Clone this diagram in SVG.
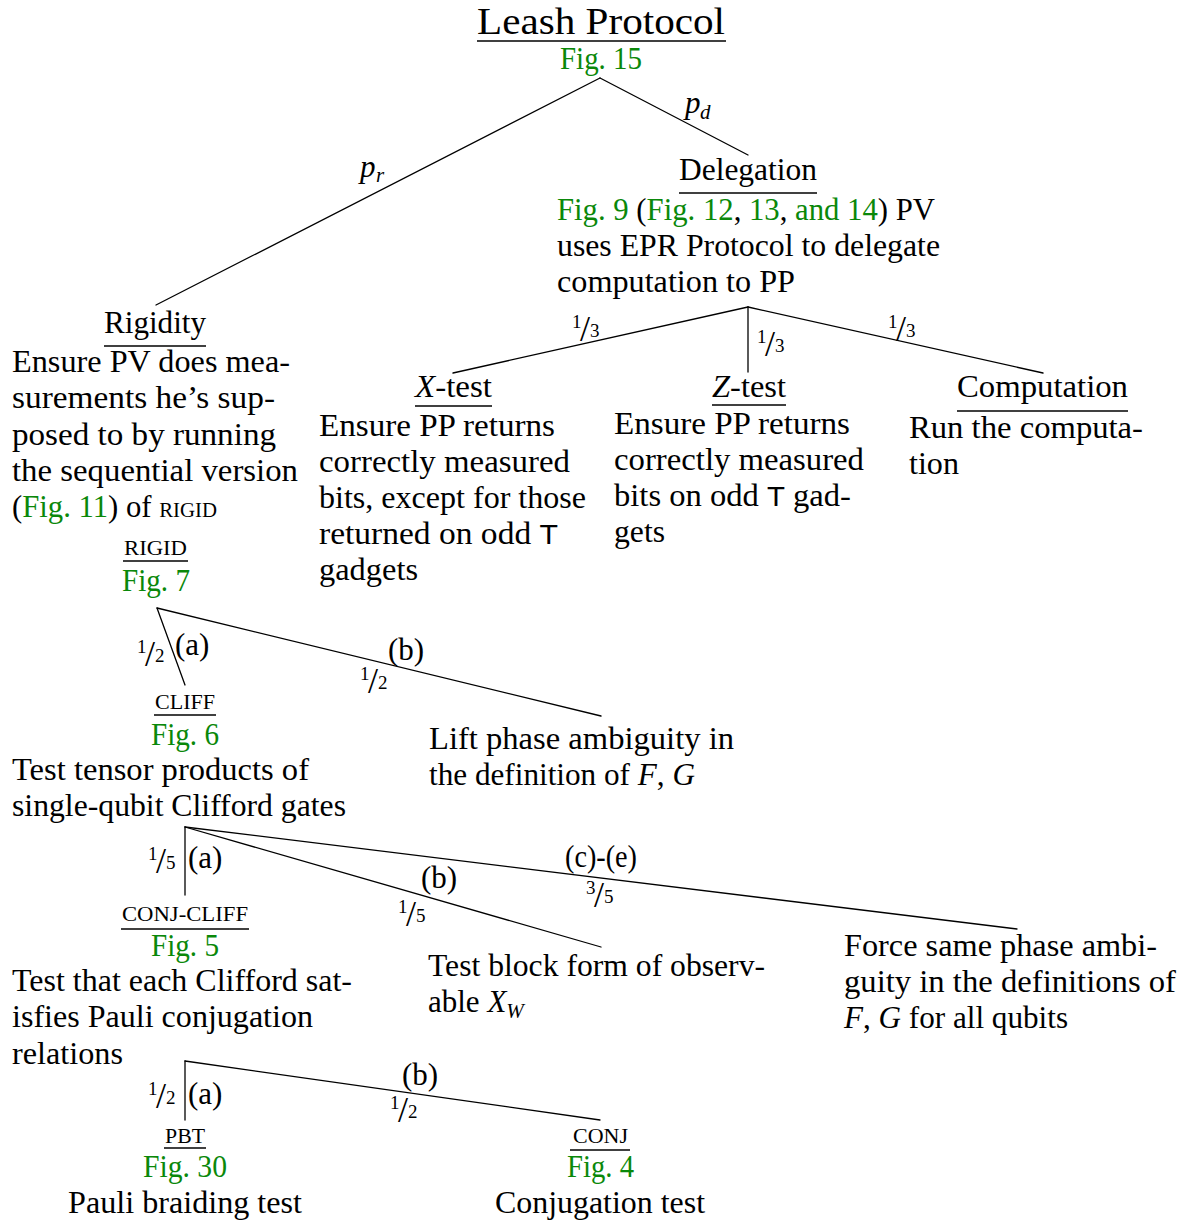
<svg xmlns="http://www.w3.org/2000/svg" width="1191" height="1223" viewBox="0 0 1191 1223">
  <style>
    text { font-family: "Liberation Serif", "Times New Roman", serif; fill: #000; }
    .t { font-size: 31px; }
    .title { font-size: 37px; }
    .g { fill: #0a880a; }
    .sc { font-size: 21px; }
    .i { font-style: italic; }
    .sf { font-family: "Liberation Sans", Arial, sans-serif; font-size: 28px; }
    .sub { font-size: 21px; }
    .n { font-size: 19px; }
    .s { font-size: 36px; }
    .ul { stroke: #000; stroke-width: 1.6; }
    .edge { stroke: #000; stroke-width: 1.3; fill: none; stroke-linecap: round; }
  </style>

  <rect width="1191" height="1223" fill="#fff"/>

  <!-- tree branches -->
  <g id="connectors">
    <line class="edge" x1="600" y1="78" x2="156" y2="305"/>
    <line class="edge" x1="600" y1="78" x2="748" y2="155"/>
    <line class="edge" x1="748" y1="307" x2="453" y2="373"/>
    <line class="edge" x1="748" y1="307" x2="748" y2="372"/>
    <line class="edge" x1="748" y1="307" x2="1043" y2="373"/>
    <line class="edge" x1="157" y1="608" x2="185" y2="685"/>
    <line class="edge" x1="157" y1="608" x2="601" y2="716"/>
    <line class="edge" x1="185" y1="827" x2="185" y2="895"/>
    <line class="edge" x1="185" y1="827" x2="601" y2="947"/>
    <line class="edge" x1="185" y1="827" x2="1017" y2="929"/>
    <line class="edge" x1="185" y1="1061" x2="185" y2="1120"/>
    <line class="edge" x1="185" y1="1061" x2="600" y2="1120"/>
  </g>

  <!-- branch probabilities and case labels -->
  <g id="edge-labels">
    <text class="t i" x="360" y="177">p<tspan class="sub" x="376" y="182">r</tspan></text>
    <text class="t i" x="685" y="113">p<tspan class="sub" x="700" y="119">d</tspan></text>

    <text><tspan class="n" x="572" y="328">1</tspan><tspan class="s" x="580" y="341">/</tspan><tspan class="n" x="590" y="337">3</tspan></text>
    <text><tspan class="n" x="757" y="343">1</tspan><tspan class="s" x="765" y="356">/</tspan><tspan class="n" x="775" y="352">3</tspan></text>
    <text><tspan class="n" x="888" y="328">1</tspan><tspan class="s" x="896" y="341">/</tspan><tspan class="n" x="906" y="337">3</tspan></text>

    <text><tspan class="n" x="137" y="653">1</tspan><tspan class="s" x="145" y="666">/</tspan><tspan class="n" x="155" y="662">2</tspan></text>
    <text class="t" x="175" y="655">(a)</text>
    <text class="t" x="388" y="660">(b)</text>
    <text><tspan class="n" x="360" y="680">1</tspan><tspan class="s" x="368" y="693">/</tspan><tspan class="n" x="378" y="689">2</tspan></text>

    <text><tspan class="n" x="148" y="860">1</tspan><tspan class="s" x="156" y="873">/</tspan><tspan class="n" x="166" y="869">5</tspan></text>
    <text class="t" x="188" y="868">(a)</text>
    <text class="t" x="421" y="888">(b)</text>
    <text><tspan class="n" x="398" y="913">1</tspan><tspan class="s" x="406" y="926">/</tspan><tspan class="n" x="416" y="922">5</tspan></text>
    <text class="t" x="565" y="867" textLength="72" lengthAdjust="spacingAndGlyphs">(c)-(e)</text>
    <text><tspan class="n" x="586" y="894">3</tspan><tspan class="s" x="594" y="907">/</tspan><tspan class="n" x="604" y="903">5</tspan></text>

    <text><tspan class="n" x="148" y="1095">1</tspan><tspan class="s" x="156" y="1108">/</tspan><tspan class="n" x="166" y="1104">2</tspan></text>
    <text class="t" x="188" y="1104">(a)</text>
    <text class="t" x="402" y="1085">(b)</text>
    <text><tspan class="n" x="390" y="1109">1</tspan><tspan class="s" x="398" y="1122">/</tspan><tspan class="n" x="408" y="1118">2</tspan></text>
  </g>

  <g id="leash-protocol">
    <text class="title" x="477" y="34" textLength="248" lengthAdjust="spacingAndGlyphs">Leash Protocol</text>
    <line class="ul" x1="477" y1="41" x2="726" y2="41" stroke-width="2"/>
    <text class="t g" x="560" y="69" textLength="82" lengthAdjust="spacingAndGlyphs">Fig. 15</text>
  </g>

  <g id="delegation">
    <text class="t" x="679" y="180" textLength="138" lengthAdjust="spacingAndGlyphs">Delegation</text>
    <line class="ul" x1="679" y1="193" x2="817" y2="193"/>
    <text class="t" x="557" y="220" textLength="378" lengthAdjust="spacingAndGlyphs"><tspan class="g">Fig. 9</tspan> (<tspan class="g">Fig. 12</tspan>, <tspan class="g">13</tspan>, <tspan class="g">and 14</tspan>) PV</text>
    <text class="t" x="557" y="256" textLength="383" lengthAdjust="spacingAndGlyphs">uses EPR Protocol to delegate</text>
    <text class="t" x="557" y="292" textLength="238" lengthAdjust="spacingAndGlyphs">computation to PP</text>
  </g>

  <g id="rigidity">
    <text class="t" x="104" y="333" textLength="102" lengthAdjust="spacingAndGlyphs">Rigidity</text>
    <line class="ul" x1="104" y1="346" x2="206" y2="346"/>
    <text class="t" x="12" y="372" textLength="278" lengthAdjust="spacingAndGlyphs">Ensure PV does mea-</text>
    <text class="t" x="12" y="408" textLength="263" lengthAdjust="spacingAndGlyphs">surements he’s sup-</text>
    <text class="t" x="12" y="445" textLength="264" lengthAdjust="spacingAndGlyphs">posed to by running</text>
    <text class="t" x="12" y="481" textLength="286" lengthAdjust="spacingAndGlyphs">the sequential version</text>
    <text class="t" x="12" y="517" textLength="205" lengthAdjust="spacingAndGlyphs">(<tspan class="g">Fig. 11</tspan>) of <tspan class="sc">RIGID</tspan></text>
  </g>

  <g id="x-test">
    <text class="t" x="415" y="397" textLength="77" lengthAdjust="spacingAndGlyphs"><tspan class="i">X</tspan>-test</text>
    <line class="ul" x1="415" y1="406" x2="492" y2="406"/>
    <text class="t" x="319" y="436" textLength="236" lengthAdjust="spacingAndGlyphs">Ensure PP returns</text>
    <text class="t" x="319" y="472" textLength="251" lengthAdjust="spacingAndGlyphs">correctly measured</text>
    <text class="t" x="319" y="508" textLength="267" lengthAdjust="spacingAndGlyphs">bits, except for those</text>
    <text class="t" x="319" y="544" textLength="239" lengthAdjust="spacingAndGlyphs">returned on odd <tspan class="sf">T</tspan></text>
    <text class="t" x="319" y="580" textLength="99" lengthAdjust="spacingAndGlyphs">gadgets</text>
  </g>

  <g id="z-test">
    <text class="t" x="712" y="397" textLength="74" lengthAdjust="spacingAndGlyphs"><tspan class="i">Z</tspan>-test</text>
    <line class="ul" x1="712" y1="405" x2="786" y2="405"/>
    <text class="t" x="614" y="434" textLength="236" lengthAdjust="spacingAndGlyphs">Ensure PP returns</text>
    <text class="t" x="614" y="470" textLength="250" lengthAdjust="spacingAndGlyphs">correctly measured</text>
    <text class="t" x="614" y="506" textLength="237" lengthAdjust="spacingAndGlyphs">bits on odd <tspan class="sf">T</tspan> gad-</text>
    <text class="t" x="614" y="542" textLength="51" lengthAdjust="spacingAndGlyphs">gets</text>
  </g>

  <g id="computation">
    <text class="t" x="957" y="397" textLength="171" lengthAdjust="spacingAndGlyphs">Computation</text>
    <line class="ul" x1="957" y1="411" x2="1128" y2="411"/>
    <text class="t" x="909" y="438" textLength="234" lengthAdjust="spacingAndGlyphs">Run the computa-</text>
    <text class="t" x="909" y="474" textLength="50" lengthAdjust="spacingAndGlyphs">tion</text>
  </g>

  <g id="rigid">
    <text class="sc" x="124" y="555" textLength="63" lengthAdjust="spacingAndGlyphs">RIGID</text>
    <line class="ul" x1="123" y1="561" x2="188" y2="561"/>
    <text class="t g" x="122" y="591" textLength="68" lengthAdjust="spacingAndGlyphs">Fig. 7</text>
  </g>

  <g id="cliff">
    <text class="sc" x="155" y="709" textLength="60" lengthAdjust="spacingAndGlyphs">CLIFF</text>
    <line class="ul" x1="154" y1="715" x2="216" y2="715"/>
    <text class="t g" x="151" y="745" textLength="68" lengthAdjust="spacingAndGlyphs">Fig. 6</text>
    <text class="t" x="12" y="780" textLength="297" lengthAdjust="spacingAndGlyphs">Test tensor products of</text>
    <text class="t" x="12" y="816" textLength="334" lengthAdjust="spacingAndGlyphs">single-qubit Clifford gates</text>
  </g>

  <g id="lift-phase">
    <text class="t" x="429" y="749" textLength="305" lengthAdjust="spacingAndGlyphs">Lift phase ambiguity in</text>
    <text class="t" x="429" y="785" textLength="266" lengthAdjust="spacingAndGlyphs">the definition of <tspan class="i">F</tspan>, <tspan class="i">G</tspan></text>
  </g>

  <g id="conj-cliff">
    <text class="sc" x="122" y="921" textLength="126" lengthAdjust="spacingAndGlyphs">CONJ-CLIFF</text>
    <line class="ul" x1="121" y1="929" x2="249" y2="929"/>
    <text class="t g" x="151" y="956" textLength="68" lengthAdjust="spacingAndGlyphs">Fig. 5</text>
    <text class="t" x="12" y="991" textLength="340" lengthAdjust="spacingAndGlyphs">Test that each Clifford sat-</text>
    <text class="t" x="12" y="1027" textLength="301" lengthAdjust="spacingAndGlyphs">isfies Pauli conjugation</text>
    <text class="t" x="12" y="1064" textLength="111" lengthAdjust="spacingAndGlyphs">relations</text>
  </g>

  <g id="block-form">
    <text class="t" x="428" y="976" textLength="337" lengthAdjust="spacingAndGlyphs">Test block form of observ-</text>
    <text class="t" x="428" y="1012">able <tspan class="i">X</tspan><tspan class="sub i" dy="6">W</tspan></text>
  </g>

  <g id="same-phase">
    <text class="t" x="844" y="956" textLength="313" lengthAdjust="spacingAndGlyphs">Force same phase ambi-</text>
    <text class="t" x="844" y="992" textLength="332" lengthAdjust="spacingAndGlyphs">guity in the definitions of</text>
    <text class="t" x="844" y="1028" textLength="224" lengthAdjust="spacingAndGlyphs"><tspan class="i">F</tspan>, <tspan class="i">G</tspan> for all qubits</text>
  </g>

  <g id="pbt">
    <text class="sc" x="165" y="1143" textLength="40" lengthAdjust="spacingAndGlyphs">PBT</text>
    <line class="ul" x1="164" y1="1148" x2="206" y2="1148"/>
    <text class="t g" x="143" y="1177" textLength="84" lengthAdjust="spacingAndGlyphs">Fig. 30</text>
    <text class="t" x="68" y="1213" textLength="234" lengthAdjust="spacingAndGlyphs">Pauli braiding test</text>
  </g>

  <g id="conj">
    <text class="sc" x="573" y="1143" textLength="55" lengthAdjust="spacingAndGlyphs">CONJ</text>
    <line class="ul" x1="570" y1="1150" x2="630" y2="1150"/>
    <text class="t g" x="567" y="1177" textLength="67" lengthAdjust="spacingAndGlyphs">Fig. 4</text>
    <text class="t" x="495" y="1213" textLength="210" lengthAdjust="spacingAndGlyphs">Conjugation test</text>
  </g>
</svg>
